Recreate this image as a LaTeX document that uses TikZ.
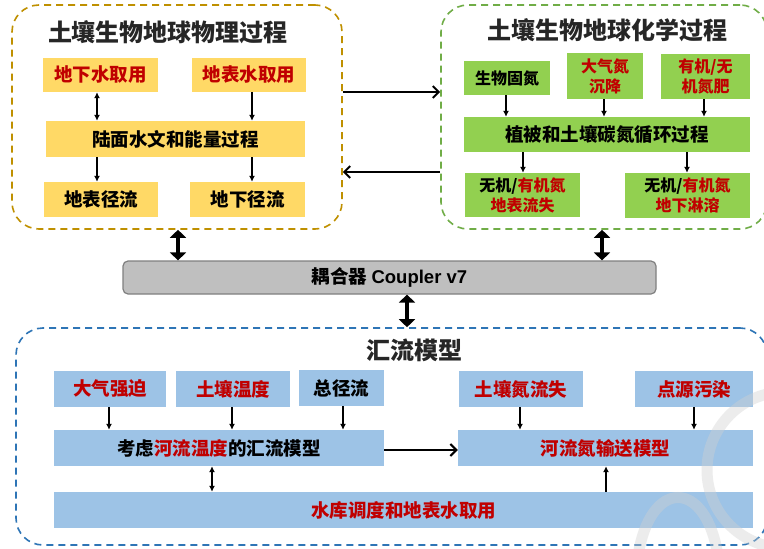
\documentclass[tikz,border=0pt]{standalone}
\usepackage{fontspec}
\setmainfont{Noto Sans CJK SC}
\newfontfamily\latfont{Liberation Sans}
\usetikzlibrary{arrows.meta}
\definecolor{yfill}{HTML}{FFD966}
\definecolor{gfill}{HTML}{92D050}
\definecolor{bfill}{HTML}{9DC3E6}
\definecolor{cfill}{HTML}{BFBFBF}
\definecolor{cline}{HTML}{808080}
\definecolor{ydash}{HTML}{BF9000}
\definecolor{gdash}{HTML}{70AD47}
\definecolor{bdash}{HTML}{2E75B6}
\definecolor{tred}{HTML}{C00000}
\definecolor{wmgray}{HTML}{D0D0D0}
\tikzset{
  box/.style={inner sep=0pt, align=center, font=\bfseries\fontsize{18.5}{21}\selectfont},
  sbox/.style={box, font=\bfseries\fontsize{16}{20}\selectfont},
  ybox/.style={box, fill=yfill},
  gbox/.style={sbox, fill=gfill},
  glbox/.style={box, fill=gfill},
  bbox/.style={box, fill=bfill},
  cont/.style={inner sep=0pt, rounded corners=27pt, line width=1.6pt, dash pattern=on 7pt off 5pt},
  ttl/.style={font=\bfseries\fontsize{24}{27}\selectfont, text=black!85},
  arr/.style={line width=1.2pt, -{Latex[length=6pt,width=6pt]}},
  darr/.style={line width=1.2pt, {Latex[length=6pt,width=6pt]}-{Latex[length=6pt,width=6pt]}},
  harr/.style={line width=2pt, -{Straight Barb[length=6pt,width=12pt]}},
  bigarr/.style={line width=4pt, {Triangle[length=8pt,width=16pt]}-{Triangle[length=8pt,width=16pt]}},
  wm/.style={draw=wmgray, line width=11pt, opacity=0.4}
}
\begin{document}
\begin{tikzpicture}[x=1pt,y=-1pt]
\useasboundingbox (0,0) rectangle (764,549);
\fill[white] (0,0) rectangle (764,549);

% containers
\node[cont, draw=ydash, minimum width=330pt, minimum height=224pt] (P1) at (177,117) {};
\node[cont, draw=gdash, minimum width=326pt, minimum height=224pt] (P2) at (604,117) {};
\node[cont, draw=bdash, minimum width=751pt, minimum height=217pt] (P3) at (391.5,436.5) {};

\node[ttl] (T1) at (168,32) {土壤生物地球物理过程};
\node[ttl] (T2) at (607,30) {土壤生物地球化学过程};
\node[ttl] (T3) at (414,350) {汇流模型};

% top-left
\node[ybox, minimum width=115pt, minimum height=34pt] (gw) at (100.5,75) {\color{tred}地下水取用};
\node[ybox, minimum width=114pt, minimum height=34pt] (bq) at (249,75) {\color{tred}地表水取用};
\node[ybox, minimum width=259pt, minimum height=36pt] (lm) at (175.5,139) {陆面水文和能量过程};
\node[ybox, minimum width=114pt, minimum height=35pt] (bj) at (101,199.5) {地表径流};
\node[ybox, minimum width=115pt, minimum height=35pt] (xj) at (247.5,199.5) {地下径流};
\draw[darr] (gw.south -| 97,0) -- (lm.north -| 97,0);
\draw[arr] (bq.south -| 252,0) -- (lm.north -| 252,0);
\draw[arr] (lm.south -| 97,0) -- (bj.north -| 97,0);
\draw[arr] (lm.south -| 252,0) -- (xj.north -| 252,0);

% top-right
\node[gbox, minimum width=86pt, minimum height=34pt] (sw) at (507,78) {生物固氮};
\node[gbox, minimum width=76pt, minimum height=46pt] (dq) at (605,76) {\color{tred}大气氮\\\color{tred}沉降};
\node[gbox, minimum width=89pt, minimum height=45pt] (yj) at (705.5,76.5) {\color{tred}有机/无\\\color{tred}机氮肥};
\node[glbox, minimum width=286pt, minimum height=35pt] (zb) at (607,134.5) {植被和土壤碳氮循环过程};
\node[gbox, minimum width=115pt, minimum height=44pt] (w1) at (522.5,195) {无机/{\color{tred}有机氮}\\\color{tred}地表流失};
\node[gbox, minimum width=125pt, minimum height=45pt] (w2) at (687.5,195.5) {无机/{\color{tred}有机氮}\\\color{tred}地下淋溶};
\draw[arr] (sw.south -| 506,0) -- (zb.north -| 506,0);
\draw[arr] (dq.south -| 604,0) -- (zb.north -| 604,0);
\draw[arr] (yj.south -| 704,0) -- (zb.north -| 704,0);
\draw[arr] (zb.south -| 523,0) -- (w1.north -| 523,0);
\draw[arr] (zb.south -| 687,0) -- (w2.north -| 687,0);

% between top panels
\draw[harr] (P1.east |- 0,92) -- (P2.west |- 0,92);
\draw[harr] (P2.west |- 0,172) -- (P1.east |- 0,172);

% coupler
\node[box, fill=cfill, draw=cline, line width=1.2pt, rounded corners=5pt, minimum width=533pt, minimum height=33pt] (C) at (389.5,277.5) {耦合器 {\latfont Coupler v7}};
\draw[bigarr] (P1.south -| 178,0) -- (C.north -| 178,0);
\draw[bigarr] (P2.south -| 602,0) -- (C.north -| 602,0);
\draw[bigarr] (C.south -| 407,0) -- (P3.north -| 407,0);

% bottom
\node[bbox, minimum width=112pt, minimum height=36pt] (dqq) at (110,389) {\color{tred}大气强迫};
\node[bbox, minimum width=114pt, minimum height=36pt] (tw) at (233,389) {\color{tred}土壤温度};
\node[bbox, minimum width=85pt, minimum height=36pt] (zj) at (341.5,388) {总径流};
\node[bbox, minimum width=124pt, minimum height=36pt] (td) at (521,389) {\color{tred}土壤氮流失};
\node[bbox, minimum width=118pt, minimum height=36pt] (dy) at (694,389) {\color{tred}点源污染};
\node[bbox, minimum width=330pt, minimum height=36pt] (kl) at (219,448) {考虑{\color{tred}河流温度}的汇流模型};
\node[bbox, minimum width=295pt, minimum height=36pt] (hl) at (605.5,448) {\color{tred}河流氮输送模型};
\node[bbox, minimum width=699pt, minimum height=36pt] (sk) at (403.5,510) {\color{tred}水库调度和地表水取用};
\draw[arr] (dqq.south -| 109,0) -- (kl.north -| 109,0);
\draw[arr] (tw.south -| 232,0) -- (kl.north -| 232,0);
\draw[arr] (zj.south -| 343,0) -- (kl.north -| 343,0);
\draw[arr] (td.south -| 520,0) -- (hl.north -| 520,0);
\draw[arr] (dy.south -| 694,0) -- (hl.north -| 694,0);
\draw[harr] (kl.east |- 0,450) -- (hl.west |- 0,450);
\draw[darr] (kl.south -| 212,0) -- (sk.north -| 212,0);
\draw[arr] (sk.north -| 606,0) -- (hl.south -| 606,0);

% faint watermark
\draw[wm] (638,556) .. controls (650,478) and (706,478) .. (718,556);
\draw[wm] (785,470) circle[radius=78pt];
\end{tikzpicture}
\end{document}
